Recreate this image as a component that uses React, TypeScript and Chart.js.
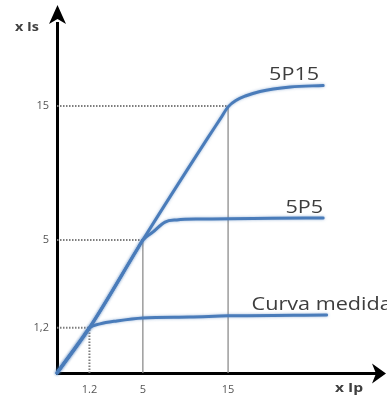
import React, { useEffect, useRef } from 'react';
import { Chart, registerables, LinearScale } from 'chart.js';

Chart.register(...registerables);

// ---- tick values and labels ----
const X_TICKS = [1.2, 5, 15];
const X_TICK_LABELS = ['1.2', '5', '15'];
const Y_TICKS = [1.2, 5, 15];
const Y_TICK_LABELS = ['1,2', '5', '15'];

// ---- schematic (non-proportional) axes: break values and their relative place on the axis ----
const X_BREAKS = [0, 1.2, 5, 15, 32];
const X_BREAK_FRAC = [0, 0.102, 0.27, 0.538, 1];
const Y_BREAKS = [0, 1.2, 5, 15, 21];
const Y_BREAK_FRAC = [0, 0.129, 0.38, 0.763, 1];

// ---- curves ----
const CURVE_NAMES = ['5P15', '5P5', 'Curva medida'];
const P15_X = [0, 1.2, 5, 12.6, 14.1, 15, 16, 17, 18.7, 22.2, 26];
const P15_Y = [0, 1.2, 5, 12.6, 14.05, 14.93, 15.43, 15.72, 16.05, 16.37, 16.48];
const P5_X = [0, 1.2, 4.6, 5, 6.2, 7.6, 9, 12, 20, 26];
const P5_Y = [0, 1.2, 4.6, 5, 5.6, 6.34, 6.5, 6.57, 6.62, 6.64];
const MED_X = [0, 1.0, 1.2, 1.95, 3.15, 5, 10.5, 15, 26.4];
const MED_Y = [0, 1.0, 1.2, 1.37, 1.5, 1.63, 1.67, 1.72, 1.76];

// ---- guide lines ----
const GUIDE_VALUES = [1.2, 5, 15];
const VERTICAL_GUIDE_DOTTED = [true, false, false];

const CURVE_COLOR = '#4a7cba';
const DOT_COLOR = '#7d7d7d';
const SOLID_COLOR = '#8c8c8c';
const TEXT_COLOR = '#3d3d3d';

function zip(xs: number[], ys: number[]) {
  return xs.map((x, i) => ({ x, y: ys[i] }));
}

function interp(xs: number[], ys: number[], v: number) {
  const n = xs.length;
  let i = 1;
  while (i < n - 1 && v > xs[i]) i++;
  const t = (v - xs[i - 1]) / (xs[i] - xs[i - 1]);
  return ys[i - 1] + t * (ys[i] - ys[i - 1]);
}

class SchematicScale extends LinearScale {
  static id = 'schematic';
  static defaults = LinearScale.defaults;
  _breaks(): [number[], number[]] {
    return (this as any).axis === 'x' ? [X_BREAKS, X_BREAK_FRAC] : [Y_BREAKS, Y_BREAK_FRAC];
  }
  buildTicks() {
    return ((this as any).axis === 'x' ? X_TICKS : Y_TICKS).map((value) => ({ value }));
  }
  getPixelForValue(value: number) {
    const [b, f] = this._breaks();
    return this.getPixelForDecimal(interp(b, f, value));
  }
  getValueForPixel(pixel: number) {
    const [b, f] = this._breaks();
    return interp(f, b, this.getDecimalForPixel(pixel));
  }
}
Chart.register(SchematicScale as any);

const LABEL_PLACE = [
  { dx: -4, dy: -5, align: 'right' },
  { dx: 0, dy: -5, align: 'right' },
  { dx: -75, dy: -5, align: 'left' },
];

const overlay = {
  id: 'overlay',
  beforeDatasetDraw(chart: any, args: any) {
    if (args.index < 3) {
      const ctx = chart.ctx;
      ctx.save();
      ctx.shadowColor = 'rgba(74,124,186,0.55)';
      ctx.shadowBlur = 3;
    }
  },
  afterDatasetDraw(chart: any, args: any) {
    if (args.index < 3) chart.ctx.restore();
  },
  afterDraw(chart: any) {
    const { ctx, chartArea } = chart;
    const { left, right, top, bottom } = chartArea;
    ctx.save();
    ctx.fillStyle = '#000';
    // y arrow head
    const ax = left + 0.5;
    ctx.beginPath();
    ctx.moveTo(ax, top - 18);
    ctx.lineTo(ax + 8.5, top + 1);
    ctx.lineTo(ax, top - 4);
    ctx.lineTo(ax - 8.5, top + 1);
    ctx.closePath();
    ctx.fill();
    // x arrow head
    const ay = bottom + 0.5;
    ctx.beginPath();
    ctx.moveTo(right + 11, ay);
    ctx.lineTo(right - 3, ay - 10);
    ctx.lineTo(right + 1, ay);
    ctx.lineTo(right - 3, ay + 10);
    ctx.closePath();
    ctx.fill();

    const stretched = (text: string, x: number, y: number, font: string, align: string, color: string) => {
      ctx.save();
      ctx.translate(x, y);
      ctx.scale(1.2, 1);
      ctx.font = font;
      ctx.textAlign = align;
      ctx.textBaseline = 'alphabetic';
      ctx.fillStyle = color;
      ctx.fillText(text, 0, 0);
      ctx.restore();
    };

    // axis titles
    stretched('x Is', left - 42, top + 8, 'bold 12px "Open Sans"', 'left', '#404040');
    stretched('x Ip', right - 40, bottom + 19, 'bold 13px "Open Sans"', 'left', '#404040');

    // curve labels
    CURVE_NAMES.forEach((name, i) => {
      const pts = chart.getDatasetMeta(i).data;
      const end = pts[pts.length - 1];
      const p = LABEL_PLACE[i];
      stretched(name, end.x + p.dx, end.y + p.dy, '18px "Open Sans"', p.align, TEXT_COLOR);
    });
    ctx.restore();
  },
};

export default function App() {
  const ref = useRef<HTMLCanvasElement | null>(null);

  useEffect(() => {
    const canvas = ref.current;
    if (!canvas) return;

    const curve = (label: string, xs: number[], ys: number[]) => ({
      label,
      data: zip(xs, ys),
      borderColor: CURVE_COLOR,
      borderWidth: 3,
      pointRadius: 0,
      cubicInterpolationMode: 'monotone',
      fill: false,
      clip: false,
      borderCapStyle: 'round',
      borderJoinStyle: 'round',
    });

    const guides: any[] = [];
    GUIDE_VALUES.forEach((v, i) => {
      guides.push({
        label: 'h' + v,
        data: [{ x: 0, y: v }, { x: v, y: v }],
        borderColor: DOT_COLOR,
        borderWidth: 2,
        borderDash: [1.5, 1.5],
        pointRadius: 0,
        clip: false,
      });
      const dotted = VERTICAL_GUIDE_DOTTED[i];
      guides.push({
        label: 'v' + v,
        data: [{ x: v, y: 0 }, { x: v, y: v }],
        borderColor: dotted ? DOT_COLOR : SOLID_COLOR,
        borderWidth: dotted ? 2 : 1.3,
        borderDash: dotted ? [1.5, 1.5] : [],
        pointRadius: 0,
        clip: false,
      });
    });

    const chart = new Chart(canvas, {
      type: 'line',
      data: {
        datasets: [
          curve(CURVE_NAMES[0], P15_X, P15_Y),
          curve(CURVE_NAMES[1], P5_X, P5_Y),
          curve(CURVE_NAMES[2], MED_X, MED_Y),
          ...guides,
        ] as any,
      },
      options: {
        responsive: false,
        maintainAspectRatio: false,
        animation: false,
        events: [],
        layout: { padding: { left: 0, right: 12, top: 23, bottom: 0 } },
        plugins: { legend: { display: false }, tooltip: { enabled: false } },
        scales: {
          x: {
            type: 'schematic' as any,
            min: 0,
            max: 32,
            grid: { display: false, drawTicks: false },
            border: { display: true, color: '#000', width: 3 },
            ticks: {
              autoSkip: false,
              maxRotation: 0,
              padding: 10,
              color: '#555',
              font: { family: 'Open Sans', size: 11 },
              callback: (v: any) => X_TICK_LABELS[X_TICKS.indexOf(Number(v))],
            },
            afterFit: (s: any) => {
              s.height = 28;
            },
          },
          y: {
            type: 'schematic' as any,
            min: 0,
            max: 21,
            grid: { display: false, drawTicks: false },
            border: { display: true, color: '#000', width: 3 },
            ticks: {
              autoSkip: false,
              padding: 8,
              color: '#555',
              font: { family: 'Open Sans', size: 11 },
              callback: (v: any) => Y_TICK_LABELS[Y_TICKS.indexOf(Number(v))],
            },
            afterFit: (s: any) => {
              s.width = 57;
            },
          },
        } as any,
      },
      plugins: [overlay as any],
    });
    return () => chart.destroy();
  }, []);

  return (
    <div style={{ position: 'fixed', left: 0, top: 0, width: 387, height: 401, background: '#fff' }}>
      <canvas ref={ref} width={387} height={401} style={{ display: 'block' }} />
    </div>
  );
}
